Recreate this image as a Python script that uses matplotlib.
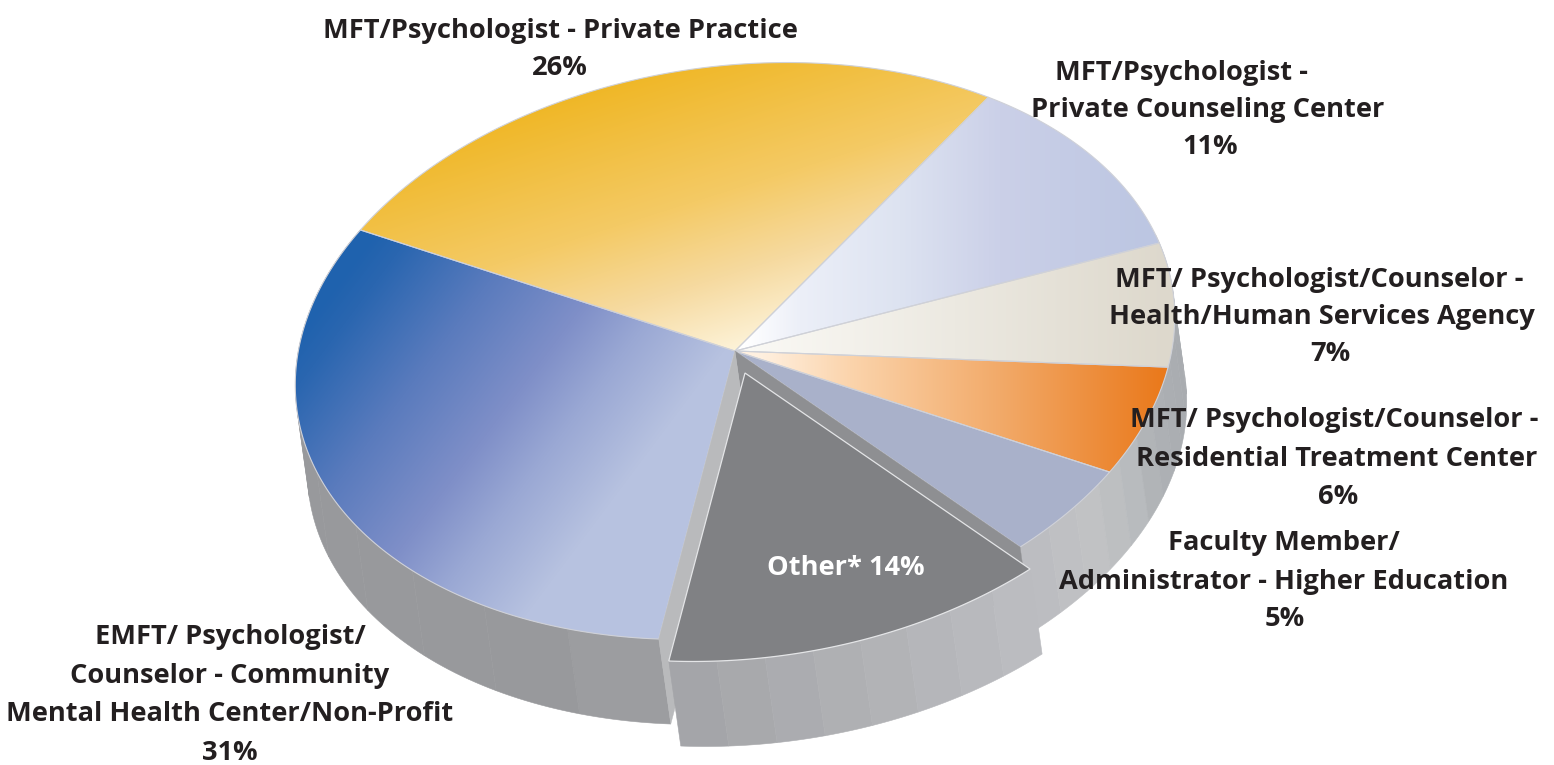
#!/usr/bin/env python3
"""Tilted 3D pie of where graduates work, drawn on a pixel-sized axes."""
import numpy as np
import matplotlib
matplotlib.use("Agg")
import matplotlib.pyplot as plt
from matplotlib.colors import to_rgb
from matplotlib.patches import Polygon

W, H = 1554, 765
INK = "#231f20"

categories = ["Private Practice", "Private Counseling Center", "Health/Human Services Agency",
              "Residential Treatment Center", "Higher Education", "Other", "Community Mental Health"]
values = [26, 11, 7, 6, 5, 14, 31]

# label lines: text, x centre, y centre
label_lines = [
    ("MFT/Psychologist - Private Practice", 560, 30),
    ("26%", 560, 67),
    ("MFT/Psychologist -", 1181, 72),
    ("Private Counseling Center", 1208, 109),
    ("11%", 1210, 146),
    ("MFT/ Psychologist/Counselor -", 1319, 279),
    ("Health/Human Services Agency", 1322, 316),
    ("7%", 1330, 353),
    ("MFT/ Psychologist/Counselor -", 1334, 419),
    ("Residential Treatment Center", 1337, 458),
    ("6%", 1338, 496),
    ("Faculty Member/", 1284, 542),
    ("Administrator - Higher Education", 1284, 581),
    ("5%", 1285, 618),
    ("EMFT/ Psychologist/", 230, 636),
    ("Counselor - Community", 230, 675),
    ("Mental Health Center/Non-Profit", 230, 713),
    ("31%", 230, 752),
]

# pie geometry in pixels
CX, CY = 735, 351
A, B = 442, 285
TILT = np.radians(7.6)
START = 143.5
DEPTH = np.array([12, 85])
EXPLODE = np.array([10, 22])


def rim(t_deg):
    t = np.radians(np.asarray(t_deg, dtype=float))
    u, v = A * np.cos(t), B * np.sin(t)
    x = CX + u * np.cos(TILT) - v * np.sin(TILT)
    y = CY - (u * np.sin(TILT) + v * np.cos(TILT))
    return np.column_stack([x, y])


def gradient_fill(ax, pts, stops, direction, zorder=2):
    """Linear gradient clipped to a polygon; stops are (position, colour)."""
    x0, y0 = np.floor(pts.min(axis=0)).astype(int)
    x1, y1 = np.ceil(pts.max(axis=0)).astype(int)
    xx, yy = np.meshgrid(np.arange(x0, x1 + 1) + 0.5, np.arange(y0, y1 + 1) + 0.5)
    s = xx * direction[0] + yy * direction[1]
    pos = [p for p, _ in stops]
    cols = np.array([to_rgb(c) for _, c in stops])
    img = np.dstack([np.interp(s, pos, cols[:, i]) for i in range(3)])
    im = ax.imshow(img, extent=(x0, x1 + 1, y1 + 1, y0), aspect="auto",
                   interpolation="bilinear", zorder=zorder)
    clip = Polygon(pts, closed=True, transform=ax.transData, fc="none", ec="none")
    ax.add_patch(clip)
    im.set_clip_path(clip)


def wall_colour(x):
    xs = [300, 550, 650, 672, 1030, 1090, 1125, 1150, 1190]
    greys = ["#98999c", "#98999c", "#9ea0a2", "#a3a4a7", "#bcbdc1", "#c1c2c4", "#babcbf", "#aeb1b5", "#a6a9ad"]
    cols = np.array([to_rgb(c) for c in greys])
    return tuple(np.interp(x, xs, cols[:, i]) for i in range(3))


def draw_wall(ax, t0, t1, shift, zorder, step=6.5):
    n = max(1, int(round(abs(t1 - t0) / step)))
    edges = np.linspace(t0, t1, n + 1)
    for a0, a1 in zip(edges[:-1], edges[1:]):
        top = rim(np.linspace(a0, a1, 12)) + shift
        bottom = top[::-1] + DEPTH
        col = wall_colour(top[:, 0].mean())
        ax.add_patch(Polygon(np.vstack([top, bottom]), closed=True, fc=col, ec=col, lw=0.4, zorder=zorder))


# slice colours
yellow = [(240, "#efb41c"), (400, "#f4ca65"), (480, "#f6daa0"), (554, "#fdf3d9")]
lavender = [(745, "#ffffff"), (800, "#eceff8"), (900, "#dde3f1"), (1000, "#cbd0e8"), (1150, "#bcc6e2")]
beige = [(740, "#fbfaf6"), (1170, "#ddd8cc")]
orange = [(760, "#fff0e0"), (850, "#fbd4ac"), (1000, "#f2aa69"), (1160, "#ea7a1d")]
pale = [(0, "#a9b1ca"), (2000, "#a9b1ca")]
grey = [(0, "#808184"), (2000, "#808184")]
blue = [(440, "#1f62ae"), (470, "#2a66b0"), (560, "#5a7bbd"), (650, "#7f8fc8"),
        (710, "#9aa8d4"), (790, "#b7c2e0")]
fills = [(yellow, (0.3, 0.95)), (lavender, (1, 0)), (beige, (1, 0)), (orange, (1, 0)),
         (pale, (1, 0)), (grey, (1, 0)), (blue, (0.8, 0.6))]

fig = plt.figure(figsize=(W / 100, H / 100), dpi=100)
fig.patch.set_facecolor("white")
ax = fig.add_axes([0, 0, 1, 1])
ax.axis("off")

sweeps = np.array(values) / sum(values) * 360
ends = START - np.cumsum(sweeps)
starts = np.concatenate([[START], ends[:-1]])
OTHER = categories.index("Other")
COMMUNITY = categories.index("Community Mental Health")

# outer walls of the pie that stays in place
draw_wall(ax, starts[COMMUNITY], ends[COMMUNITY], 0, 1, step=13)
draw_wall(ax, starts[OTHER], 12, 0, 1, step=5)

# top faces
centre = np.array([[CX, CY]])
for i, (stops, direction) in enumerate(fills):
    if i == OTHER:
        continue
    arc = rim(np.linspace(starts[i], ends[i], 120))
    pts = np.vstack([centre, arc])
    gradient_fill(ax, pts, stops, direction)
    ax.add_patch(Polygon(pts, closed=True, fc="none", ec="#cfd1d8", lw=0.8, zorder=3))

# cut faces left open by the pulled-out slice
c = centre[0]
ax.add_patch(Polygon([c, rim(starts[OTHER])[0], rim(starts[OTHER])[0] + DEPTH, c + DEPTH],
                     closed=True, fc="#8e8f92", ec="#8e8f92", lw=0.3, zorder=4))
ax.add_patch(Polygon([c, rim(ends[OTHER])[0], rim(ends[OTHER])[0] + DEPTH, c + DEPTH],
                     closed=True, fc="#b9babc", ec="#b9babc", lw=0.3, zorder=4))

# pulled-out slice
draw_wall(ax, ends[OTHER], starts[OTHER], EXPLODE, 5, step=6.2)
other_pts = np.vstack([centre, rim(np.linspace(starts[OTHER], ends[OTHER], 80))]) + EXPLODE
ax.add_patch(Polygon(other_pts, closed=True, fc="#808184", ec="#e4e5e7", lw=0.9, zorder=6))

for text, x, y in label_lines:
    ax.text(x, y + 1, text, ha="center", va="center", fontsize=19.6, fontweight="bold",
            family="Open Sans", color=INK, zorder=8)
ax.text(846, 568, "Other* 14%", ha="center", va="center", fontsize=19.6, fontweight="bold",
        family="Open Sans", color="white", zorder=8)

ax.set_xlim(0, W)
ax.set_ylim(H, 0)
fig.savefig("out.png", dpi=100, facecolor="white")
